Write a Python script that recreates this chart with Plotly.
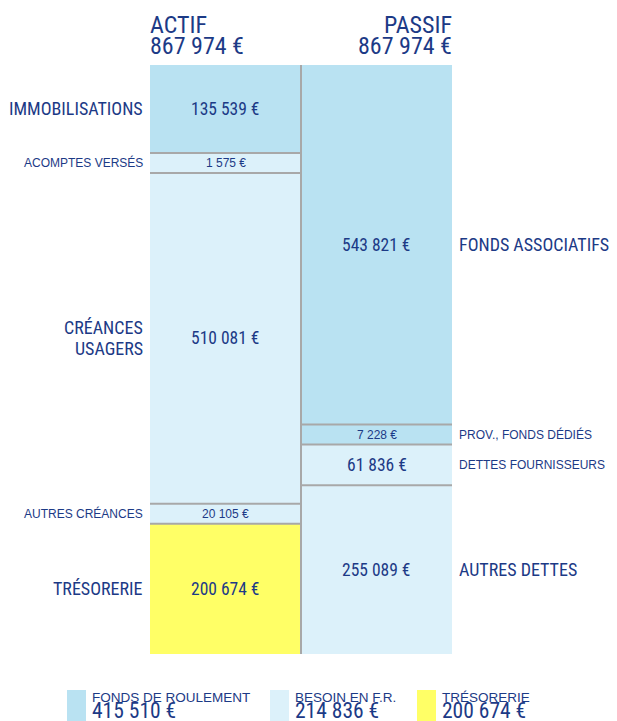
import plotly.graph_objects as go

# ---- data ----
actif_labels = ["IMMOBILISATIONS", "ACOMPTES VERSÉS", "CRÉANCES<br>USAGERS", "AUTRES CRÉANCES", "TRÉSORERIE"]
actif_values = [135539, 1575, 510081, 20105, 200674]
actif_groups = ["fr", "bfr", "bfr", "bfr", "treso"]

passif_labels = ["FONDS ASSOCIATIFS", "PROV., FONDS DÉDIÉS", "DETTES FOURNISSEURS", "AUTRES DETTES"]
passif_values = [543821, 7228, 61836, 255089]
passif_groups = ["fr", "fr", "bfr", "bfr"]

column_titles = ["ACTIF", "PASSIF"]
legend_labels = ["FONDS DE ROULEMENT", "BESOIN EN F.R.", "TRÉSORERIE"]

# ---- style ----
OFF = 8  # browser default body margin
W, H = 617 - OFF, 721 - OFF
L, R, T, B = 150 - OFF, 452 - OFF, 65 - OFF, 654 - OFF
PLOT_H = B - T
MIN_PX = 20
LINE_GAP = 21
NARROW = "Liberation Sans Narrow, Roboto Condensed, Arial Narrow, sans-serif"
REG = "Liberation Sans, Arial, sans-serif"
NAVY = "#1c3a86"
SEP = "#a8a8a8"
COLORS = {"fr": "#b9e2f2", "bfr": "#dcf1fa", "treso": "#ffff66"}
NW = 400  # weight for narrow font


def euro(v):
    return f"{v:,}".replace(",", " ") + " €"


def display_heights(values):
    total = sum(values)
    mn = MIN_PX / PLOT_H * total
    small = [v < mn for v in values]
    rest = total - mn * sum(small)
    big = sum(v for v, s in zip(values, small) if not s)
    return [mn if s else v * rest / big for v, s in zip(values, small)]


total = sum(actif_values)
fig = go.Figure()
annotations = []
shapes = []

columns = [
    (0, actif_labels, actif_values, actif_groups, "left"),
    (1, passif_labels, passif_values, passif_groups, "right"),
]

for xpos, labels, values, groups, side in columns:
    disp = display_heights(values)
    base = 0
    for i, (lab, v, g, d) in enumerate(zip(labels, values, groups, disp)):
        fig.add_trace(go.Bar(
            x=[xpos], y=[d], base=[base], width=1,
            marker=dict(color=COLORS[g], line=dict(width=0)),
            hovertext=f"{lab.replace('<br>', ' ')}: {euro(v)}", hoverinfo="text",
            showlegend=False,
        ))
        hpx = d / total * PLOT_H
        center = base + d / 2
        big_val = hpx >= 30
        val_font = (dict(family=NARROW, size=17.5, color=NAVY, weight=NW) if big_val
                    else dict(family=REG, size=12, color=NAVY))
        annotations.append(dict(
            x=xpos, y=center, xref="x", yref="y", text=euro(v), showarrow=False,
            font=val_font, xanchor="center", yanchor="middle",
        ))
        big_lab = hpx >= 60
        lab_font = (dict(family=NARROW, size=18, color=NAVY, weight=NW) if big_lab
                    else dict(family=REG, size=12, color=NAVY))
        lines = lab.split("<br>")
        n = len(lines)
        for k, line in enumerate(lines):
            ys = ((n - 1) / 2 - k) * LINE_GAP
            if side == "left":
                annotations.append(dict(
                    x=xpos - 0.5, y=center, xref="x", yref="y", text=line, showarrow=False,
                    font=lab_font, xanchor="right", yanchor="middle", align="right",
                    xshift=-5, yshift=ys,
                ))
            else:
                annotations.append(dict(
                    x=xpos + 0.5, y=center, xref="x", yref="y", text=line, showarrow=False,
                    font=lab_font, xanchor="left", yanchor="middle", align="left",
                    xshift=5, yshift=ys,
                ))
        if i > 0:
            shapes.append(dict(type="line", xref="x", yref="y",
                               x0=xpos - 0.5, x1=xpos + 0.5, y0=base, y1=base,
                               line=dict(color=SEP, width=2)))
        base += d

# vertical separator between columns
shapes.append(dict(type="line", xref="x", yref="y", x0=0.5, x1=0.5, y0=0, y1=total,
                   line=dict(color=SEP, width=2)))

# column headers
for xpos, title, anchor, xs in [(-0.5, column_titles[0], "left", -2), (1.5, column_titles[1], "right", 2)]:
    annotations.append(dict(x=xpos, y=1, xref="x", yref="paper", text=title, showarrow=False,
                            font=dict(family=NARROW, size=24, color=NAVY, weight=NW),
                            xanchor=anchor, yanchor="middle", yshift=40, xshift=xs))
    annotations.append(dict(x=xpos, y=1, xref="x", yref="paper", text=euro(total), showarrow=False,
                            font=dict(family=NARROW, size=24, color=NAVY, weight=NW),
                            xanchor=anchor, yanchor="middle", yshift=19, xshift=xs))

# legend values computed from the balance sheet
fr = sum(v for v, g in zip(passif_values, passif_groups) if g == "fr") - \
     sum(v for v, g in zip(actif_values, actif_groups) if g == "fr")
bfr = sum(v for v, g in zip(actif_values, actif_groups) if g == "bfr") - \
      sum(v for v, g in zip(passif_values, passif_groups) if g == "bfr")
treso = sum(v for v, g in zip(actif_values, actif_groups) if g == "treso")
legend_values = [fr, bfr, treso]
legend_colors = [COLORS["fr"], COLORS["bfr"], COLORS["treso"]]


def xp(px):  # screen pixel -> paper x
    return (px - OFF - L) / (R - L)


def yp(py):  # screen pixel -> paper y
    return (B - (py - OFF)) / PLOT_H


legend_x = [67, 270, 417]
for lx, lab, val, col in zip(legend_x, legend_labels, legend_values, legend_colors):
    shapes.append(dict(type="rect", xref="paper", yref="paper",
                       x0=xp(lx), x1=xp(lx + 19), y0=yp(690), y1=yp(721),
                       fillcolor=col, line=dict(width=0)))
    annotations.append(dict(x=xp(lx + 23), y=yp(697), xref="paper", yref="paper", text=lab,
                            showarrow=False, font=dict(family=REG, size=13.5, color=NAVY),
                            xanchor="left", yanchor="middle"))
    annotations.append(dict(x=xp(lx + 23), y=yp(710.5), xref="paper", yref="paper", text=euro(val),
                            showarrow=False, font=dict(family=NARROW, size=21.5, color=NAVY, weight=NW),
                            xanchor="left", yanchor="middle"))

fig.update_layout(
    width=W, height=H,
    margin=dict(l=L, r=W - R, t=T, b=H - B, pad=0),
    paper_bgcolor="white", plot_bgcolor="white",
    barmode="overlay", bargap=0,
    xaxis=dict(range=[-0.5, 1.5], visible=False, fixedrange=True),
    yaxis=dict(range=[total, 0], visible=False, fixedrange=True),
    annotations=annotations, shapes=shapes,
    showlegend=False,
)

fig.write_html("out.html")
